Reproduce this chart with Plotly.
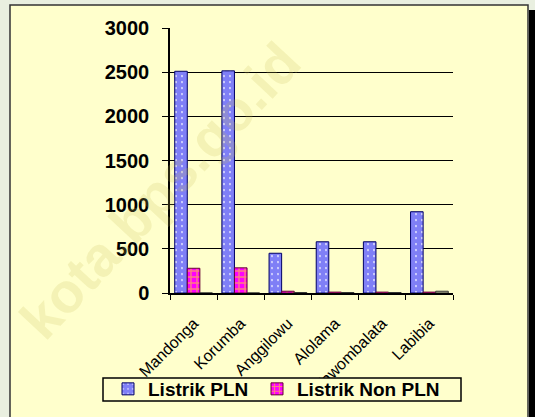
import plotly.graph_objects as go

categories = ["Mandonga", "Korumba", "Anggilowu", "Alolama", "Wawombalata", "Labibia"]
listrik_pln = [2510, 2515, 450, 580, 580, 920]
listrik_non_pln = [280, 285, 20, 10, 10, 10]
lainnya = [0, 0, 5, 5, 5, 20]
y_ticks = [0, 500, 1000, 1500, 2000, 2500, 3000]

W, H = 535, 417
L, R, T, B = 170, 82, 28, 124
pw, ph = W - L - R, H - T - B

def px_x(px):
    return (px - L) / pw

def px_y(py):
    return (H - B - py) / ph

fig = go.Figure()
fig.add_trace(go.Bar(
    x=categories, y=listrik_pln, name="<b>Listrik PLN</b>", legend="legend",
    marker=dict(color="white", line=dict(color="#000066", width=1),
                pattern=dict(shape=".", fgcolor="#0000ee", bgcolor="white", size=6, solidity=0.85)),
))
fig.add_trace(go.Bar(
    x=categories, y=listrik_non_pln, name="<b>Listrik Non PLN</b>", legend="legend2",
    marker=dict(color="#ff00ff", line=dict(color="#660033", width=1),
                pattern=dict(shape="+", fgcolor="#ffff00", bgcolor="#ff00ff", size=6, solidity=0.4)),
))
fig.add_trace(go.Bar(
    x=categories, y=lainnya, name="Lainnya", showlegend=False,
    marker=dict(color="#c8c8a0", line=dict(color="#333333", width=1)),
))

font_family = "Arial, 'Liberation Sans', sans-serif"

legend_common = dict(orientation="h", xref="container", yref="container",
                     xanchor="left", yanchor="middle",
                     bgcolor="rgba(0,0,0,0)", borderwidth=0,
                     font=dict(size=19, family=font_family), itemwidth=30)

fig.update_layout(
    width=W, height=H,
    margin=dict(l=L, r=R, t=T, b=B, pad=0),
    paper_bgcolor="#e9efe0",
    plot_bgcolor="#ffff99",
    barmode="group", bargap=0.2, bargroupgap=0,
    font=dict(family=font_family, color="black"),
    showlegend=True,
    legend=dict(legend_common, x=108 / W, y=1 - 389 / H),
    legend2=dict(legend_common, x=257 / W, y=1 - 389 / H),
    xaxis=dict(showgrid=False, tickangle=-45, tickfont=dict(size=16, family=font_family),
               ticks="outside", tickson="boundaries", ticklen=5, tickcolor="black",
               ticklabelstandoff=13, automargin=False,
               showline=True, linecolor="black", linewidth=1.5),
    yaxis=dict(range=[0, 3000], tickvals=y_ticks, showgrid=True, gridcolor="black", gridwidth=1,
               tickfont=dict(size=20, family=font_family, weight="bold"),
               ticks="outside", ticklen=6, tickcolor="black", ticklabelstandoff=9, automargin=False,
               showline=True, linecolor="black", linewidth=1.5, zeroline=False),
    shapes=[
        dict(type="rect", xref="paper", yref="paper", x0=px_x(10), x1=px_x(528), y0=px_y(430), y1=px_y(5),
             fillcolor="#ffffcc", line=dict(color="#333333", width=1.5), layer="below"),
        dict(type="rect", xref="paper", yref="paper", x0=px_x(529), x1=px_x(535), y0=px_y(430), y1=px_y(10),
             fillcolor="black", line=dict(width=0), layer="below"),
        dict(type="rect", xref="paper", yref="paper", x0=px_x(103), x1=px_x(461), y0=px_y(401), y1=px_y(378),
             fillcolor="#ffffcc", line=dict(color="black", width=1.5), layer="above"),
    ],
    annotations=[
        dict(text="kota.bps.go.id", xref="paper", yref="paper", x=px_x(160), y=px_y(190),
             xanchor="center", yanchor="middle",
             showarrow=False, textangle=-47, font=dict(size=56, family=font_family, weight="bold",
             color="rgba(200,190,90,0.2)")),
    ],
)

fig.write_html("out.html", config={"displayModeBar": False},
               post_script="document.body.style.margin='0';")
